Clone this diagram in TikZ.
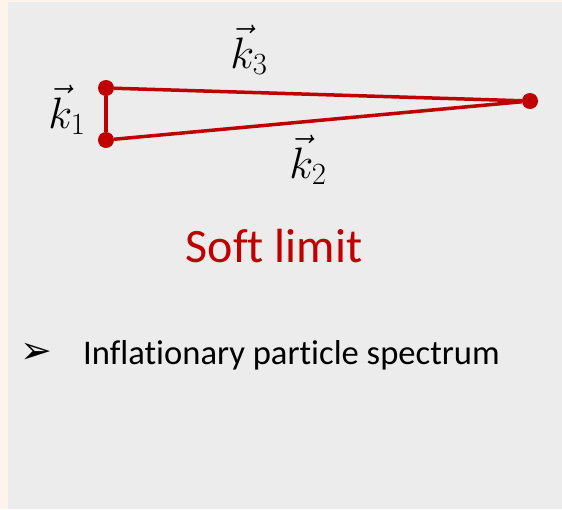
\RequirePackage{fix-cm}
\documentclass[tikz,border=0pt]{standalone}
\usepackage{fontspec}
\setsansfont{Carlito}[Ligatures=NoCommon]
\newfontfamily\bulletfont{DejaVu Sans}
\usepackage{xcolor}
\usetikzlibrary{positioning}
\definecolor{softred}{HTML}{C00000}
\definecolor{panelgray}{HTML}{ECECEC}
\definecolor{peach}{HTML}{FDF4EC}

\begin{document}
\begin{tikzpicture}[
 x=1pt,y=-1pt,
 vtx/.style={circle,fill=softred,inner sep=0pt,minimum size=16pt},
 side/.style={draw=softred,line width=3.5pt},
 klabel/.style={font=\fontsize{44}{44}\selectfont,inner sep=0pt},
 caption/.style={font=\sffamily\fontsize{48}{48}\selectfont,text=softred,inner sep=0pt},
 item/.style={font=\sffamily\fontsize{34.6}{34.6}\selectfont,inner sep=0pt}]
\fill[peach] (0,0) rectangle (562,509);
\fill[panelgray] (8,2) rectangle (562,509);
\useasboundingbox (0,0) rectangle (562,509);
\node[vtx] (top) at (106,88) {};
\node[vtx] (bot) at (106,140) {};
\node[vtx] (far) at (530,101) {};
\draw[side] (top) -- (bot);
\draw[side] (top) -- (far);
\draw[side] (bot) -- (far);
\node[klabel] (k1) at (67,110) {$\vec{k}_1$};
\node[klabel] (k3) at (249,50) {$\vec{k}_3$};
\node[klabel] (k2) at (308,160) {$\vec{k}_2$};
\node[caption,anchor=base] (soft) at (274,262) {Soft limit};
\node[item,anchor=base west] (spec) at (83,364) {Inflationary particle spectrum};
\node[inner sep=0pt,font=\bulletfont\fontsize{38}{38}\selectfont] (bul) at (36,353) {➢};
\end{tikzpicture}
\end{document}
